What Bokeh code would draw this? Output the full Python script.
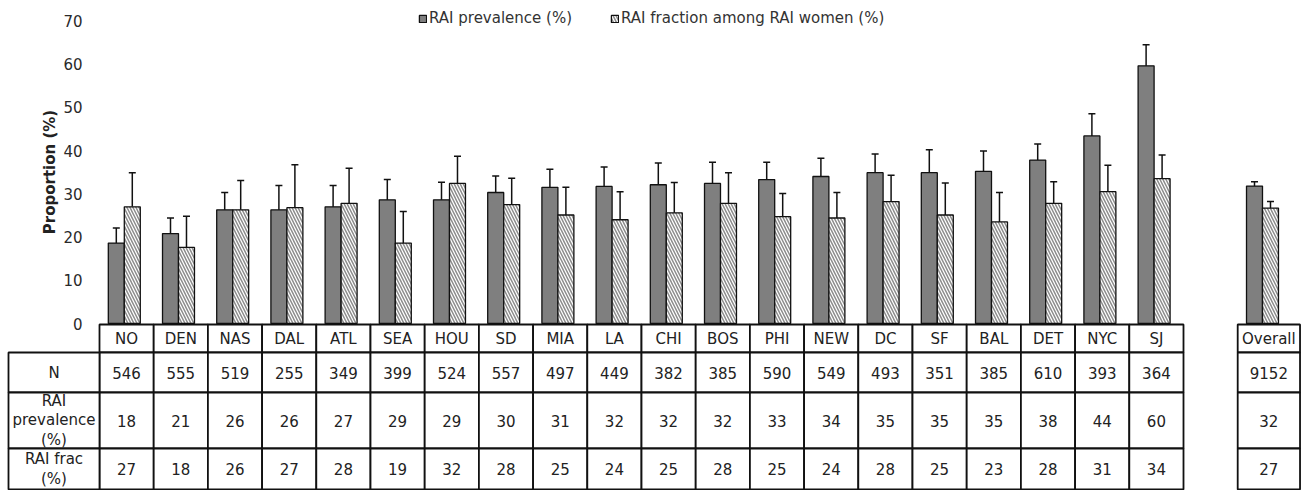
from bokeh.plotting import figure
from bokeh.models import (ColumnDataSource, Range1d, Whisker, TeeHead, Legend,
                          LegendItem, FixedTicker, LinearAxis)
from bokeh.embed import file_html
from bokeh.resources import INLINE
from bokeh.core.properties import value

# ---------------- data ----------------
cities = ["NO", "DEN", "NAS", "DAL", "ATL", "SEA", "HOU", "SD", "MIA", "LA", "CHI",
          "BOS", "PHI", "NEW", "DC", "SF", "BAL", "DET", "NYC", "SJ", "Overall"]
n_women = [546, 555, 519, 255, 349, 399, 524, 557, 497, 449, 382, 385, 590, 549,
           493, 351, 385, 610, 393, 364, 9152]
prev_pct = [18, 21, 26, 26, 27, 29, 29, 30, 31, 32, 32, 32, 33, 34, 35, 35, 35, 38,
            44, 60, 32]
frac_pct = [27, 18, 26, 27, 28, 19, 32, 28, 25, 24, 25, 28, 25, 24, 28, 25, 23, 28,
            31, 34, 27]
prev_bar = [18.6, 20.8, 26.3, 26.3, 27.0, 28.6, 28.6, 30.3, 31.5, 31.7, 32.1, 32.4,
            33.3, 34.0, 34.9, 34.9, 35.2, 37.8, 43.4, 59.6, 31.8]
prev_lo = [15.4, 17.7, 22.3, 21.4, 22.4, 24.4, 24.8, 26.4, 27.4, 27.4, 27.6, 27.8,
           29.7, 30.2, 30.7, 30.3, 30.5, 34.0, 38.7, 54.4, 31.0]
prev_hi = [22.1, 24.4, 30.3, 31.9, 31.9, 33.3, 32.7, 34.1, 35.7, 36.2, 37.1, 37.3,
           37.3, 38.2, 39.2, 40.2, 39.9, 41.5, 48.5, 64.5, 32.8]
frac_bar = [27.0, 17.6, 26.3, 26.8, 27.8, 18.6, 32.4, 27.5, 25.1, 24.0, 25.6, 27.8,
            24.7, 24.4, 28.2, 25.1, 23.5, 27.8, 30.5, 33.5, 26.7]
frac_lo = [20.0, 12.2, 20.0, 18.7, 20.6, 13.1, 26.4, 22.0, 19.7, 18.3, 19.4, 21.6,
           19.7, 19.4, 22.9, 19.0, 17.8, 23.0, 25.1, 28.6, 24.9]
frac_hi = [34.9, 24.8, 33.1, 36.7, 35.9, 25.9, 38.7, 33.6, 31.5, 30.5, 32.6, 34.9,
           30.1, 30.3, 34.3, 32.5, 30.3, 32.8, 36.6, 39.0, 28.2]
row_labels = ["N", "RAI\nprevalence\n(%)", "RAI frac\n(%)"]
y_ticks = [0, 10, 20, 30, 40, 50, 60, 70]
legend_labels = ["RAI prevalence (%)", "RAI fraction among RAI women (%)"]

# ---------------- geometry ----------------
FONT = "DejaVu Sans"
W, H = 1308, 490
ORIGIN_X = 99      # px from the left to the first category cell
HDR_X = 8          # px from the left to the row-header column
SLOT = 54.2        # px per category slot
PX = 4.323         # px per percentage point
ABOVE = 323        # px from frame top to the zero line
BELOW = H - ABOVE  # px of table under the zero line

n = len(cities)
xpos = [float(i) for i in range(n - 1)] + [float(n)]   # gap before Overall
x0 = -0.5
x_start = x0 - ORIGIN_X / SLOT
x_end = x_start + W / SLOT

src = ColumnDataSource(dict(
    x=xpos,
    xp=[v - 0.19 for v in xpos],
    xf=[v + 0.105 for v in xpos],
    prev=prev_bar, prev_lo=prev_lo, prev_hi=prev_hi,
    frac=frac_bar, frac_lo=frac_lo, frac_hi=frac_hi,
))

p = figure(width=W, height=H, x_range=Range1d(x_start, x_end),
           y_range=Range1d(-BELOW / PX, ABOVE / PX), output_backend="svg",
           toolbar_location=None, x_axis_location=None, y_axis_location=None,
           min_border=0, min_border_left=0, min_border_right=0,
           min_border_top=0, min_border_bottom=0)
p.outline_line_color = None
p.xgrid.visible = False
p.ygrid.visible = False
p.extra_y_ranges = {"tab": Range1d(-BELOW, ABOVE)}

ax = LinearAxis(fixed_location=x0, bounds=(0, 70))
ax.ticker = FixedTicker(ticks=y_ticks)
ax.axis_line_color = None
ax.major_tick_line_color = None
ax.minor_tick_line_color = None
ax.major_tick_out = 0
ax.major_tick_in = 0
ax.major_label_standoff = 17
ax.major_label_text_font = FONT
ax.major_label_text_font_size = "15px"
ax.major_label_text_color = "#2a2a2a"
ax.axis_label = "Proportion (%)"
ax.axis_label_text_font = FONT
ax.axis_label_text_font_size = "15px"
ax.axis_label_text_font_style = "bold"
ax.axis_label_text_color = "#222222"
ax.axis_label_standoff = 1
p.add_layout(ax, "left")

r1 = p.vbar(x="xp", top="prev", bottom=0, width=0.295, source=src,
            fill_color="#7f7f7f", line_color="#111111", line_width=1.3)
r2 = p.vbar(x="xf", top="frac", bottom=0, width=0.295, source=src,
            fill_color="white", line_color="#111111", line_width=1.3,
            hatch_pattern="\\", hatch_color="#8c8c8c", hatch_scale=6,
            hatch_weight=1.5)

for base, lo, hi in (("xp", "prev_lo", "prev_hi"), ("xf", "frac_lo", "frac_hi")):
    w = Whisker(source=src, base=base, lower=lo, upper=hi, dimension="height",
                line_color="#111111", line_width=1.5,
                upper_head=TeeHead(size=7, line_width=1.5, line_color="#111111"),
                lower_head=TeeHead(size=7, line_width=1.5, line_color="#111111"))
    p.add_layout(w)

legend = Legend(items=[LegendItem(label=legend_labels[0], renderers=[r1]),
                       LegendItem(label=legend_labels[1], renderers=[r2])],
                orientation="horizontal", location=(418, H - 28),
                glyph_width=9, glyph_height=9, label_standoff=2, spacing=38,
                padding=0, margin=0, border_line_color=None,
                background_fill_alpha=0, label_height=20,
                label_text_font=FONT, label_text_font_size="15px",
                label_text_color="#333333")
p.add_layout(legend)

# ---------------- table (pixel units below the zero line) ----------------
edges = [-1, -29, -69, -125, -166]
centers = [(edges[k] + edges[k + 1]) / 2 for k in range(4)]
heights = [edges[k] - edges[k + 1] for k in range(4)]

cell_w = [1.0] * (n - 1) + [1.15]
cell_x = xpos[:-1] + [xpos[-1] + 0.075]

cx, cy, cwid, chei = [], [], [], []
for k in range(4):
    for i in range(n):
        cx.append(cell_x[i]); cy.append(centers[k])
        cwid.append(cell_w[i]); chei.append(heights[k])
hdr_left = x_start + HDR_X / SLOT
hdr_right = x0
for k in range(1, 4):
    cx.append((hdr_left + hdr_right) / 2); cy.append(centers[k])
    cwid.append(hdr_right - hdr_left); chei.append(heights[k])
p.rect(x=cx, y=cy, width=cwid, height=chei, fill_color="white",
       line_color="#111111", line_width=1.8, y_range_name="tab")

tx, ty, tt = [], [], []
for i in range(n):
    tx += [cell_x[i]] * 4
    ty += centers
    tt += [cities[i], str(n_women[i]), str(prev_pct[i]), str(frac_pct[i])]
for k in range(3):
    tx.append((hdr_left + hdr_right) / 2); ty.append(centers[k + 1]); tt.append(row_labels[k])
p.text(x=tx, y=ty, text=tt, text_align="center", text_baseline="middle",
       text_font=value(FONT), text_font_size="15px", text_color="#222222",
       text_line_height=1.1, y_range_name="tab")

open("out.html", "w").write(file_html(p, INLINE))
